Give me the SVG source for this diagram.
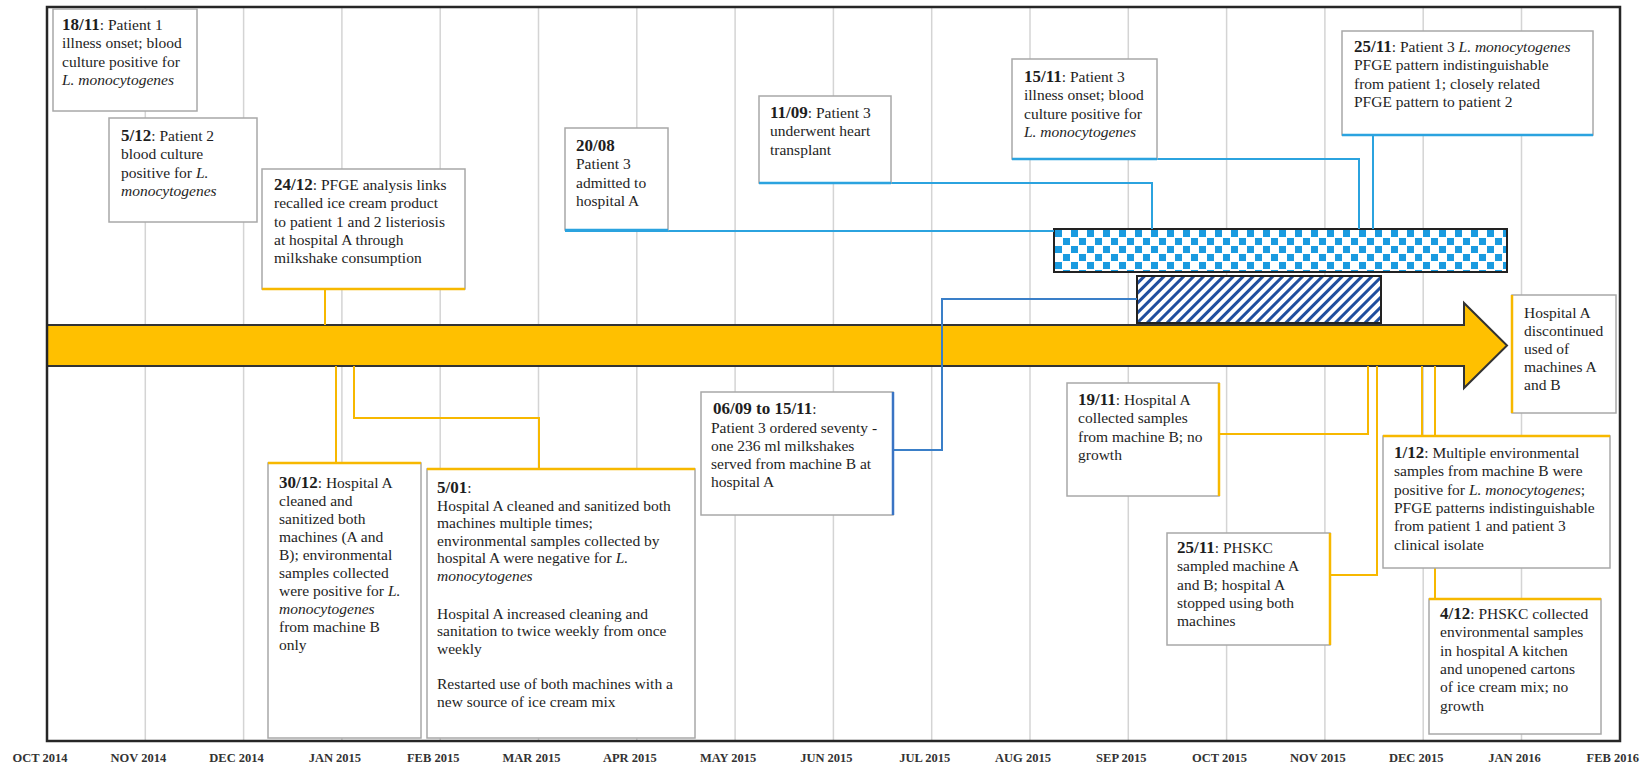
<svg xmlns="http://www.w3.org/2000/svg" width="1648" height="767" viewBox="0 0 1648 767">
<style>
.grid{stroke:#d4d4d4;stroke-width:1.5}
.box{fill:#fff;stroke:#a8a8a8;stroke-width:1.5}
.t{font-family:"Liberation Serif","Times New Roman",serif;font-size:15.5px;fill:#1e1e1e}
.d{font-weight:bold;font-size:17px}
.i{font-style:italic}
.ax{font-family:"Liberation Serif","Times New Roman",serif;font-size:12.5px;font-weight:bold;fill:#333;text-anchor:middle}
.cb{fill:none;stroke:#2ba3df;stroke-width:2}
.cd{fill:none;stroke:#3a7fc8;stroke-width:2}
.cy{fill:none;stroke:#f7b800;stroke-width:2}
.eb{stroke:#2ba3df;stroke-width:2.5}
.ed{stroke:#3a74c4;stroke-width:2.5}
.ey{stroke:#f7b800;stroke-width:2.5}
</style>
<defs>
<pattern id="checker" patternUnits="userSpaceOnUse" x="1054" y="229" width="16" height="16">
<rect width="16" height="16" fill="#fff"/>
<rect x="1" y="1" width="7" height="7" fill="#1a9be0"/>
<rect x="9" y="9" width="7" height="7" fill="#1a9be0"/>
</pattern>
<pattern id="hatch" patternUnits="userSpaceOnUse" width="7" height="7" patternTransform="rotate(45)">
<rect width="7" height="7" fill="#fff"/>
<line x1="3.5" y1="0" x2="3.5" y2="7" stroke="#1f4e9e" stroke-width="3"/>
</pattern>
</defs>
<rect width="1648" height="767" fill="#fff"/>
<g id="gridlines">
<line class="grid" x1="145.3" y1="8" x2="145.3" y2="740"/>
<line class="grid" x1="243.6" y1="8" x2="243.6" y2="740"/>
<line class="grid" x1="341.9" y1="8" x2="341.9" y2="740"/>
<line class="grid" x1="440.2" y1="8" x2="440.2" y2="740"/>
<line class="grid" x1="538.5" y1="8" x2="538.5" y2="740"/>
<line class="grid" x1="636.8" y1="8" x2="636.8" y2="740"/>
<line class="grid" x1="735.1" y1="8" x2="735.1" y2="740"/>
<line class="grid" x1="833.4" y1="8" x2="833.4" y2="740"/>
<line class="grid" x1="931.7" y1="8" x2="931.7" y2="740"/>
<line class="grid" x1="1030" y1="8" x2="1030" y2="740"/>
<line class="grid" x1="1128.3" y1="8" x2="1128.3" y2="740"/>
<line class="grid" x1="1226.6" y1="8" x2="1226.6" y2="740"/>
<line class="grid" x1="1324.9" y1="8" x2="1324.9" y2="740"/>
<line class="grid" x1="1423.2" y1="8" x2="1423.2" y2="740"/>
<line class="grid" x1="1521.5" y1="8" x2="1521.5" y2="740"/>
</g>
<g id="axis-labels">
<text class="ax" x="40" y="762">OCT 2014</text>
<text class="ax" x="138.3" y="762">NOV 2014</text>
<text class="ax" x="236.6" y="762">DEC 2014</text>
<text class="ax" x="334.9" y="762">JAN 2015</text>
<text class="ax" x="433.2" y="762">FEB 2015</text>
<text class="ax" x="531.5" y="762">MAR 2015</text>
<text class="ax" x="629.8" y="762">APR 2015</text>
<text class="ax" x="728.1" y="762">MAY 2015</text>
<text class="ax" x="826.4" y="762">JUN 2015</text>
<text class="ax" x="924.7" y="762">JUL 2015</text>
<text class="ax" x="1023" y="762">AUG 2015</text>
<text class="ax" x="1121.3" y="762">SEP 2015</text>
<text class="ax" x="1219.6" y="762">OCT 2015</text>
<text class="ax" x="1317.9" y="762">NOV 2015</text>
<text class="ax" x="1416.2" y="762">DEC 2015</text>
<text class="ax" x="1514.5" y="762">JAN 2016</text>
<text class="ax" x="1612.8" y="762">FEB 2016</text>
</g>
<g id="timeline-arrow">
<polygon points="47,325 1464,325 1464,303 1507,345.5 1464,388 1464,366 47,366" fill="#ffc000" stroke="#333" stroke-width="2"/>
</g>
<g id="bar-checker">
<rect x="1054" y="229" width="453" height="43" fill="url(#checker)" stroke="#222" stroke-width="2"/>
</g>
<g id="bar-hatched">
<rect x="1137" y="276" width="244" height="47" fill="url(#hatch)" stroke="#222" stroke-width="2"/>
</g>
<g id="connectors">
<polyline class="cb" points="565,231 1054,231"/>
<polyline class="cb" points="759,183 1152,183 1152,229"/>
<polyline class="cb" points="1012,159 1359,159 1359,229"/>
<polyline class="cb" points="1373,135 1373,229"/>
<polyline class="cd" points="893,450 942,450 942,299 1137,299"/>
<polyline class="cy" points="325,289 325,325"/>
<polyline class="cy" points="336,366 336,463"/>
<polyline class="cy" points="354,366 354,418 539,418 539,469"/>
<polyline class="cy" points="1219,434 1368,434 1368,366"/>
<polyline class="cy" points="1330,575 1377,575 1377,366"/>
<polyline class="cy" points="1422,366 1422,436"/>
<polyline class="cy" points="1435,366 1435,599"/>
</g>
<g id="frame">
<rect x="47" y="7" width="1573" height="734" fill="none" stroke="#262626" stroke-width="2.5"/>
</g>
<g id="n1811">
<rect class="box" x="53" y="9" width="144" height="102"/>
<text class="t" x="62" y="30"><tspan class="d">18/11</tspan>: Patient 1</text>
<text class="t" x="62" y="48.3">illness onset; blood</text>
<text class="t" x="62" y="66.6">culture positive for</text>
<text class="t i" x="62" y="84.9">L. monocytogenes</text>
</g>
<g id="n0512">
<rect class="box" x="109" y="118" width="148" height="104"/>
<text class="t" x="121" y="141"><tspan class="d">5/12</tspan>: Patient  2</text>
<text class="t" x="121" y="159.3">blood culture</text>
<text class="t" x="121" y="177.6">positive for <tspan class="i">L.</tspan></text>
<text class="t i" x="121" y="195.9">monocytogenes</text>
</g>
<g id="n2412">
<rect class="box" x="262" y="169" width="203" height="120"/>
<line class="ey" x1="262" y1="289" x2="465" y2="289"/>
<text class="t" x="274" y="190"><tspan class="d">24/12</tspan>: PFGE analysis links</text>
<text class="t" x="274" y="208.3">recalled ice cream product</text>
<text class="t" x="274" y="226.6">to patient 1 and 2 listeriosis</text>
<text class="t" x="274" y="244.9">at hospital A through</text>
<text class="t" x="274" y="263.2">milkshake consumption</text>
</g>
<g id="n2008">
<rect class="box" x="565" y="128" width="103" height="102"/>
<line class="eb" x1="565" y1="230" x2="668" y2="230"/>
<text class="t" x="576" y="151"><tspan class="d">20/08</tspan></text>
<text class="t" x="576" y="169.3">Patient  3</text>
<text class="t" x="576" y="187.6">admitted to</text>
<text class="t" x="576" y="205.9">hospital A</text>
</g>
<g id="n1109">
<rect class="box" x="759" y="96" width="132" height="87"/>
<line class="eb" x1="759" y1="183" x2="891" y2="183"/>
<text class="t" x="770" y="118"><tspan class="d">11/09</tspan>: Patient 3</text>
<text class="t" x="770" y="136.3">underwent heart</text>
<text class="t" x="770" y="154.6">transplant</text>
</g>
<g id="n1511">
<rect class="box" x="1012" y="59" width="145" height="100"/>
<line class="eb" x1="1012" y1="159" x2="1157" y2="159"/>
<text class="t" x="1024" y="82"><tspan class="d">15/11</tspan>: Patient 3</text>
<text class="t" x="1024" y="100.3">illness onset; blood</text>
<text class="t" x="1024" y="118.6">culture positive for</text>
<text class="t i" x="1024" y="136.9">L. monocytogenes</text>
</g>
<g id="n2511a">
<rect class="box" x="1342" y="31" width="251" height="104"/>
<line class="eb" x1="1342" y1="135" x2="1593" y2="135"/>
<text class="t" x="1354" y="52"><tspan class="d">25/11</tspan>: Patient  3 <tspan class="i">L. monocytogenes</tspan></text>
<text class="t" x="1354" y="70.3">PFGE pattern indistinguishable</text>
<text class="t" x="1354" y="88.6">from patient 1; closely related</text>
<text class="t" x="1354" y="106.9">PFGE pattern to patient 2</text>
</g>
<g id="nHospitalA">
<rect class="box" x="1512" y="295" width="104" height="118"/>
<line class="ey" x1="1512" y1="295" x2="1512" y2="413"/>
<text class="t" x="1524" y="318">Hospital A</text>
<text class="t" x="1524" y="336">discontinued</text>
<text class="t" x="1524" y="354">used of</text>
<text class="t" x="1524" y="372">machines A</text>
<text class="t" x="1524" y="390">and B</text>
</g>
<g id="n3012">
<rect class="box" x="268" y="463" width="153" height="275"/>
<line class="ey" x1="268" y1="463" x2="421" y2="463"/>
<text class="t" x="279" y="488"><tspan class="d">30/12</tspan>: Hospital A</text>
<text class="t" x="279" y="506">cleaned and</text>
<text class="t" x="279" y="524">sanitized both</text>
<text class="t" x="279" y="542">machines (A and</text>
<text class="t" x="279" y="560">B); environmental</text>
<text class="t" x="279" y="578">samples collected</text>
<text class="t" x="279" y="596">were positive for <tspan class="i">L.</tspan></text>
<text class="t i" x="279" y="614">monocytogenes</text>
<text class="t" x="279" y="632">from machine B</text>
<text class="t" x="279" y="650">only</text>
</g>
<g id="n0501">
<rect class="box" x="427" y="469" width="268" height="269"/>
<line class="ey" x1="427" y1="469" x2="695" y2="469"/>
<text class="t" x="437" y="493"><tspan class="d">5/01</tspan>:</text>
<text class="t" x="437" y="510.5">Hospital A cleaned and sanitized both</text>
<text class="t" x="437" y="528">machines multiple times;</text>
<text class="t" x="437" y="545.5">environmental samples collected by</text>
<text class="t" x="437" y="563">hospital A were negative for  <tspan class="i">L.</tspan></text>
<text class="t i" x="437" y="580.5">monocytogenes</text>
<text class="t" x="437" y="618.5">Hospital A increased cleaning and</text>
<text class="t" x="437" y="636">sanitation to twice weekly from once</text>
<text class="t" x="437" y="653.5">weekly</text>
<text class="t" x="437" y="689">Restarted use of both machines with a</text>
<text class="t" x="437" y="707">new source of ice cream mix</text>
</g>
<g id="n0609">
<rect class="box" x="701" y="392" width="192" height="123"/>
<line class="ed" x1="893" y1="392" x2="893" y2="515"/>
<text class="t" x="713" y="414"><tspan class="d">06/09 to 15/11</tspan>:</text>
<text class="t" x="711" y="432.5">Patient  3 ordered seventy -</text>
<text class="t" x="711" y="450.5">one 236 ml milkshakes</text>
<text class="t" x="711" y="468.5">served from machine B at</text>
<text class="t" x="711" y="486.5">hospital A</text>
</g>
<g id="n1911">
<rect class="box" x="1067" y="383" width="152" height="113"/>
<line class="ey" x1="1219" y1="383" x2="1219" y2="496"/>
<text class="t" x="1078" y="405"><tspan class="d">19/11</tspan>: Hospital A</text>
<text class="t" x="1078" y="423.3">collected samples</text>
<text class="t" x="1078" y="441.6">from machine B; no</text>
<text class="t" x="1078" y="459.9">growth</text>
</g>
<g id="n2511b">
<rect class="box" x="1167" y="533" width="163" height="112"/>
<line class="ey" x1="1330" y1="533" x2="1330" y2="645"/>
<text class="t" x="1177" y="553"><tspan class="d">25/11</tspan>: PHSKC</text>
<text class="t" x="1177" y="571.3">sampled machine A</text>
<text class="t" x="1177" y="589.6">and B; hospital A</text>
<text class="t" x="1177" y="607.9">stopped using both</text>
<text class="t" x="1177" y="626.2">machines</text>
</g>
<g id="n0112">
<rect class="box" x="1383" y="436" width="227" height="132"/>
<line class="ey" x1="1383" y1="436" x2="1610" y2="436"/>
<text class="t" x="1394" y="458"><tspan class="d">1/12</tspan>: Multiple environmental</text>
<text class="t" x="1394" y="476.3">samples from machine B were</text>
<text class="t" x="1394" y="494.6">positive for <tspan class="i">L. monocytogenes</tspan>;</text>
<text class="t" x="1394" y="512.9">PFGE patterns indistinguishable</text>
<text class="t" x="1394" y="531.2">from patient 1 and patient 3</text>
<text class="t" x="1394" y="549.5">clinical isolate</text>
</g>
<g id="n0412">
<rect class="box" x="1429" y="599" width="172" height="135"/>
<line class="ey" x1="1429" y1="599" x2="1601" y2="599"/>
<text class="t" x="1440" y="619"><tspan class="d">4/12</tspan>: PHSKC collected</text>
<text class="t" x="1440" y="637.3">environmental samples</text>
<text class="t" x="1440" y="655.6">in hospital A kitchen</text>
<text class="t" x="1440" y="673.9">and unopened cartons</text>
<text class="t" x="1440" y="692.2">of ice cream mix; no</text>
<text class="t" x="1440" y="710.5">growth</text>
</g>
</svg>
